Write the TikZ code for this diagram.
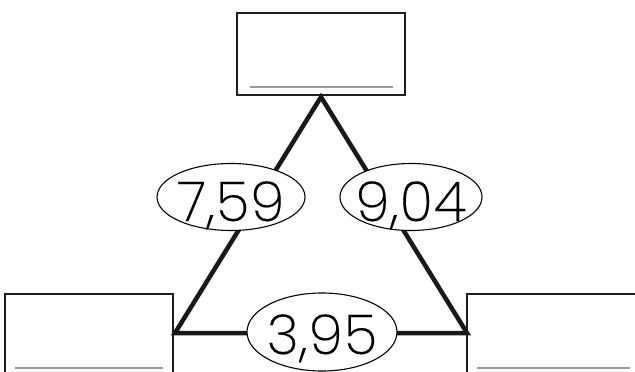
\documentclass[tikz,border=0pt]{standalone}
\usepackage{fontspec}
\newfontfamily\numfont{Poppins ExtraLight}[FakeBold=0.3,LetterSpace=2]
\usetikzlibrary{shapes.geometric}
\begin{document}
\begin{tikzpicture}[x=1pt,y=-1pt,
  answerbox/.style={draw=black!88,line width=1.5pt,fill=white},
  writeline/.style={draw=black!40,line width=1.6pt},
  edge/.style={draw=black!90,line width=4.5pt},
  valueoval/.style={ellipse,draw=black,line width=1.1pt,fill=white,inner sep=0pt},
  valuetext/.style={inner sep=0pt,font=\numfont\fontsize{55}{55}\selectfont}]
\useasboundingbox (0,0) rectangle (635,372);
% boxes
\draw[answerbox] (237,13) rectangle (405,95);
\draw[writeline] (250,87) -- (393,87);
\draw[answerbox] (5,294) rectangle (173,380);
\draw[writeline] (15,368) -- (163,368);
\draw[answerbox] (467,294) rectangle (645,380);
\draw[writeline] (477,368) -- (630,368);
% triangle corners
\coordinate (top) at (321,97);
\coordinate (bl) at (175,333);
\coordinate (br) at (467,333);
\draw[edge,line join=miter] (bl) -- (top) -- (br) -- cycle;
% value ovals
\node[valueoval,minimum width=148pt,minimum height=67pt] (a) at (231,197) {};
\node[valueoval,minimum width=142pt,minimum height=67pt] (b) at (411,197) {};
\node[valueoval,minimum width=150pt,minimum height=78pt] (c) at (322,332) {};
\node[valuetext,anchor=base] (ta) at ([yshift=-24pt]a.center) {7,59};
\node[valuetext,anchor=base] (tb) at ([yshift=-24pt]b.center) {9,04};
\node[valuetext,anchor=base] (tc) at ([yshift=-22pt]c.center) {3,95};
\end{tikzpicture}
\end{document}
